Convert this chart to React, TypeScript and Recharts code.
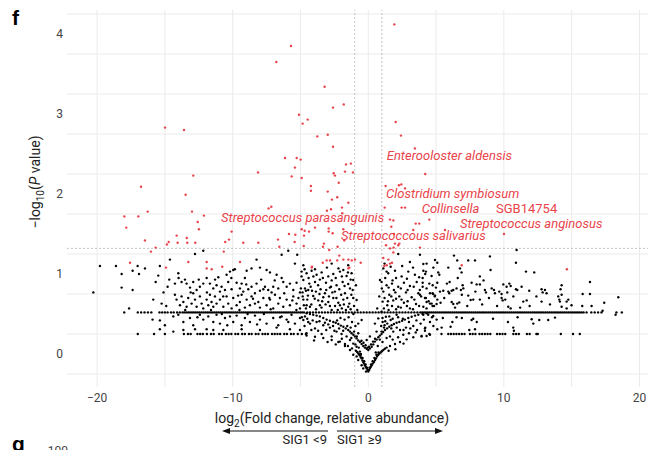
import React from "react";
import {
  ScatterChart,
  Scatter,
  XAxis,
  YAxis,
  CartesianGrid,
  ReferenceLine,
} from "recharts";

type Pt = [number, number];

// axis setup
const xTicks = [-20, -10, 0, 10, 20];
const yTicks = [0, 1, 2, 3, 4];
const xGrid = [-20, -15, -10, -5, 0, 5, 10, 15, 20];
const yGrid = [-0.25, 0.25, 0.75, 1.25, 1.75, 2.25, 2.75, 3.25, 3.75, 4.25];
const fcCut = 1;
const pCut = 1.32;

// significant taxa (red)
const sigPoints: Pt[] = [
  [1.92, 4.12], [-5.7, 3.85], [-6.78, 3.65], [-3.22, 3.34], [-1.81, 3.12], [-2.6, 3.08], [-5.11, 2.99],
  [-4.47, 2.93], [-4.84, 2.88], [2.02, 2.9], [-3.76, 2.72], [-2.99, 2.74], [2.41, 2.73], [-2.6, 2.59],
  [3.44, 2.57], [-6.14, 2.45], [-5.28, 2.45], [-4.99, 2.43], [-1.64, 2.37], [-1.28, 2.38], [-5.41, 2.33],
  [-8.13, 2.27], [-2.55, 2.26], [-2.46, 2.23], [-1.72, 2.28], [-1.13, 2.27], [4.2, 2.25], [-5.65, 2.22],
  [-4.91, 2.2], [-2.18, 2.14], [-4.23, 2.1], [-4.23, 2.04], [-2.99, 2.03], [-2.29, 1.96], [-2.68, 1.93],
  [1.28, 2.1], [2.26, 2.11], [2.44, 2.12], [2.71, 2.07], [-14.99, 2.83], [-13.59, 2.8], [-12.91, 2.23],
  [-16.76, 2.09], [-13.47, 1.99], [-16.27, 1.78], [-17.99, 1.72], [-16.96, 1.72], [-13.0, 1.78],
  [-12.12, 1.73], [-12.58, 1.65], [-17.85, 1.58], [-12.49, 1.56], [-10.08, 1.53], [-14.13, 1.48],
  [-13.39, 1.45], [-16.47, 1.42], [-14.72, 1.4], [-14.06, 1.39], [-13.35, 1.39], [-12.76, 1.39],
  [-10.27, 1.43], [-10.55, 1.4], [-9.22, 1.39], [-8.11, 1.39], [-14.85, 1.37], [-15.68, 1.33],
  [-16.03, 1.28], [-10.66, 1.28], [-1.47, 1.89], [-7.15, 1.84], [-7.35, 1.82], [-1.94, 1.83],
  [-2.75, 1.81], [-3.05, 1.79], [-1.92, 1.76], [1.21, 1.83], [-3.93, 1.58], [-4.91, 1.56], [-4.37, 1.53],
  [-2.92, 1.57], [-2.92, 1.53], [-1.84, 1.56], [-5.85, 1.5], [-5.38, 1.49], [-4.69, 1.54], [-4.74, 1.48],
  [-2.63, 1.51], [-6.66, 1.43], [-5.43, 1.4], [-1.77, 1.42], [-3.27, 1.38], [-3.34, 1.34], [-2.88, 1.3],
  [-2.26, 1.34], [-6.56, 1.34], [-4.76, 1.35], [1.7, 1.59], [1.9, 1.5], [1.31, 1.36], [1.87, 1.33],
  [2.46, 1.83], [2.71, 1.83], [1.6, 1.68], [1.85, 1.67], [3.5, 1.63], [3.76, 1.63], [4.5, 1.68],
  [3.32, 1.55], [5.66, 1.55], [10.01, 1.5], [2.21, 1.36], [3.81, 1.33], [1.97, 1.38], [2.29, 1.38],
  [1.6, 1.32], [1.85, 1.27], [1.6, 1.13], [1.36, 1.11], [1.11, 1.2], [6.89, 1.11], [14.65, 1.06],
  [-1.84, 1.18], [-1.47, 1.18], [-1.22, 1.17], [-0.56, 1.14], [-1.47, 1.07], [-4.15, 1.09], [-3.36, 1.14],
  [-3.07, 1.17], [-2.82, 1.17], [-2.14, 1.23], [-2.29, 1.17], [-0.98, 1.18], [-1.4, 1.08], [1.48, 1.18],
  [1.75, 1.14], [1.18, 1.1], [-17.57, 1.14], [-13.27, 1.15], [-11.92, 1.15], [-11.92, 1.07],
  [-11.55, 1.06], [-10.77, 1.09], [-9.46, 1.15], [-14.92, 1.08], [-4.17, 1.08],
];

// non-significant taxa, left side
const nsLeft: Pt[] = [
  [-20.28, 0.77], [-19.79, 1.1], [-18.61, 1.1], [-17.01, 1.1], [-16.47, 1.07], [-15.37, 1.1], [-14.63, 1.18],
  [-12.78, 1.25], [-12.17, 1.29], [-9.96, 1.05], [-9.84, 1.06], [-8.97, 1.04], [-8.61, 1.07], [-8.24, 1.18],
  [-7.99, 1.08], [-7.5, 1.05], [-7.25, 1.02], [-6.39, 1.24], [-5.9, 1.29], [-5.24, 1.24], [-5.41, 1.13],
  [-18.19, 1.0], [-17.38, 1.04], [-16.91, 1.0], [-18.19, 0.83], [-17.38, 0.8], [-15.68, 0.9], [-15.49, 0.98],
  [-14.68, 0.93], [-14.8, 0.84], [-14.26, 0.88], [-14.01, 1.01], [-13.99, 0.95], [-13.77, 0.9], [-13.52, 0.93],
  [-13.4, 0.88], [-13.15, 0.83], [-12.91, 0.9], [-12.66, 0.8], [-12.42, 0.84], [-12.17, 0.88], [-11.92, 0.95],
  [-11.68, 0.88], [-11.43, 0.82], [-11.19, 0.86], [-11.06, 0.96], [-10.94, 0.78], [-10.82, 0.84],
  [-10.57, 0.8], [-10.45, 0.99], [-10.33, 0.9], [-10.2, 1.03], [-10.08, 0.81], [-9.71, 0.89], [-9.47, 0.82],
  [-9.34, 0.88], [-9.22, 0.78], [-9.1, 0.95], [-8.85, 0.81], [-8.61, 0.84], [-8.36, 0.76], [-8.24, 0.88],
  [-7.99, 0.79], [-7.74, 0.81], [-7.62, 0.84], [-7.38, 0.8], [-7.13, 0.77], [-7.01, 0.84], [-6.76, 0.99],
  [-6.64, 0.82], [-6.39, 0.95], [-6.27, 0.9], [-6.02, 0.84], [-5.78, 0.88], [-5.53, 0.8], [-5.29, 0.89],
  [-5.04, 0.77], [-4.92, 0.97], [-4.67, 0.82], [-4.43, 0.8],
  [-17.64, 0.57], [-15.86, 0.68], [-15.24, 0.63], [-14.26, 0.74], [-14.14, 0.68], [-13.89, 0.61], [-13.77, 0.72],
  [-13.64, 0.65], [-13.4, 0.59], [-13.28, 0.7], [-13.03, 0.63], [-12.91, 0.76], [-12.78, 0.68], [-12.66, 0.59],
  [-12.42, 0.72], [-12.29, 0.63], [-12.17, 0.57], [-11.92, 0.68], [-11.8, 0.61], [-11.68, 0.74], [-11.56, 0.65],
  [-11.43, 0.59], [-11.31, 0.72], [-11.19, 0.63], [-10.94, 0.68], [-10.69, 0.59], [-10.45, 0.72], [-10.33, 0.63],
  [-10.08, 0.57], [-9.96, 0.7], [-9.71, 0.61], [-9.47, 0.65], [-9.34, 0.74], [-9.1, 0.58], [-8.97, 0.68],
  [-8.73, 0.61], [-8.61, 0.72], [-8.36, 0.63], [-8.11, 0.65], [-7.99, 0.58], [-7.74, 0.7], [-7.5, 0.61],
  [-7.25, 0.68], [-7.01, 0.57], [-6.88, 0.74], [-6.64, 0.63], [-6.52, 0.7], [-6.27, 0.59], [-6.02, 0.68],
  [-5.78, 0.61], [-5.53, 0.72], [-5.29, 0.63], [-5.04, 0.57], [-4.79, 0.68], [-4.55, 0.61],
  [-15.91, 0.43], [-15.37, 0.42], [-15.0, 0.36], [-14.38, 0.47], [-14.01, 0.49], [-13.64, 0.4], [-13.15, 0.45],
  [-12.91, 0.36], [-12.42, 0.49], [-12.17, 0.43], [-11.8, 0.47], [-11.43, 0.4], [-11.19, 0.49], [-10.94, 0.38],
  [-10.57, 0.45], [-10.2, 0.47], [-9.96, 0.4], [-9.71, 0.48], [-9.34, 0.36], [-9.1, 0.45], [-8.73, 0.4],
  [-8.36, 0.48], [-7.99, 0.43], [-7.5, 0.38], [-7.01, 0.45], [-6.64, 0.36], [-6.39, 0.47], [-6.02, 0.43],
  [-5.66, 0.49], [-5.41, 0.38], [-5.04, 0.45], [-4.67, 0.47], [-4.43, 0.4],
  [-15.37, 0.31], [-14.38, 0.28], [-13.64, 0.3], [-12.78, 0.31], [-11.92, 0.31], [-11.43, 0.3], [-10.69, 0.3],
  [-9.34, 0.31], [-7.99, 0.3], [-6.76, 0.33], [-5.78, 0.31], [-5.04, 0.3],
  [-13.1, 0.77], [-12.5, 0.93], [-11.9, 0.77], [-11.3, 0.93], [-10.7, 0.72], [-10.1, 0.95], [-9.6, 0.73],
  [-9.0, 0.87], [-8.5, 0.69], [-7.9, 0.93], [-7.3, 0.7], [-6.9, 0.92], [-6.2, 0.76], [-5.6, 0.67],
  [-5.15, 0.7], [-13.5, 0.55], [-12.6, 0.46], [-11.6, 0.55], [-10.8, 0.5], [-10.4, 0.36], [-9.5, 0.55],
  [-8.9, 0.5], [-8.2, 0.37], [-7.7, 0.5], [-7.2, 0.56], [-6.5, 0.46], [-5.9, 0.4], [-5.3, 0.55],
  [-14.9, 0.6], [-15.1, 0.77],
];

// non-significant taxa, centre (|log2FC| < 5)
const nsCentre: Pt[] = [
  [-4.92, 1.03], [-4.55, 1.01], [-4.18, 1.04], [-3.81, 0.99], [-3.44, 1.02], [-2.95, 0.97], [-2.58, 1.0],
  [-2.09, 1.03], [-1.6, 0.975], [-1.23, 1.01], [-4.79, 0.925], [-4.35, 0.88], [-3.93, 0.9], [-3.57, 0.93],
  [-3.12, 0.89], [-2.7, 0.92], [-2.34, 0.86], [-1.89, 0.9], [-1.48, 0.875], [-1.11, 0.925], [-4.97, 0.82],
  [-4.6, 0.79], [-4.25, 0.84], [-3.86, 0.78], [-3.52, 0.81], [-3.2, 0.76], [-2.83, 0.83], [-2.46, 0.78],
  [-2.14, 0.81], [-1.72, 0.76], [-1.35, 0.82], [-4.84, 0.72], [-4.5, 0.68], [-4.06, 0.725], [-3.69, 0.67],
  [-3.32, 0.71], [-2.95, 0.65], [-2.58, 0.7], [-2.21, 0.64], [-1.84, 0.68], [-1.4, 0.63], [-1.11, 0.7],
  [-4.75, 0.61], [-4.3, 0.59], [-3.57, 0.61], [-2.83, 0.6], [-2.09, 0.61], [-1.48, 0.59],
  [-4.79, 1.11], [-3.93, 1.06], [-2.7, 1.13], [-1.84, 1.05], [-1.48, 1.11],
  [-4.79, 0.425], [-4.3, 0.38], [-3.81, 0.4], [-3.32, 0.36], [-3.93, 0.32], [-2.83, 0.33], [-2.34, 0.28],
  [-1.97, 0.25], [-1.6, 0.22], [-4.55, 0.26], [-3.44, 0.25], [-2.7, 0.22], [-1.35, 0.175], [-1.11, 0.13],
  [-2.09, 0.155], [-1.72, 0.1], [-0.86, 0.09], [-0.62, 0.03], [-0.49, -0.14], [-0.74, -0.075],
  [-0.37, -0.18], [-0.17, -0.22], [-0.86, -0.03], [-1.11, -0.01], [-1.35, 0.05],
  [-4.7, 1.06], [-4.4, 0.95], [-4.05, 0.97], [-3.7, 0.86], [-3.35, 0.95], [-3.05, 1.08], [-2.75, 0.84],
  [-2.4, 0.95], [-2.2, 1.07], [-1.95, 0.97], [-1.75, 0.85], [-1.5, 1.02], [-1.3, 0.93], [-1.15, 0.8],
  [-4.85, 0.77], [-4.45, 0.73], [-4.15, 0.79], [-3.95, 0.69], [-3.6, 0.75], [-3.4, 0.66], [-3.1, 0.8],
  [-2.9, 0.72], [-2.65, 0.77], [-2.35, 0.7], [-2.0, 0.74], [-1.8, 0.62], [-1.55, 0.7], [-1.25, 0.74],
  [-1.05, 0.6], [-4.6, 0.57], [-4.2, 0.62], [-3.85, 0.56], [-3.45, 0.58], [-3.15, 0.62], [-2.7, 0.55],
  [-2.45, 0.6], [-2.25, 0.55], [-1.95, 0.57], [-1.65, 0.55], [-1.3, 0.56], [-1.1, 0.5], [-4.9, 0.46],
  [-4.5, 0.44], [-4.1, 0.42], [-3.6, 0.41], [-3.2, 0.39], [-2.95, 0.37], [-2.6, 0.35], [-2.3, 0.42],
  [-2.05, 0.45], [-1.75, 0.43], [-1.45, 0.46], [-1.2, 0.4], [-0.95, 0.35], [-4.7, 0.35], [-4.2, 0.3],
  [-3.7, 0.29], [-3.1, 0.3], [-2.5, 0.29], [-2.15, 0.32], [-1.85, 0.29], [-1.55, 0.35], [-1.3, 0.33],
  [-1.05, 0.28], [-0.85, 0.22], [-4.0, 0.17], [-3.0, 0.15], [-2.4, 0.12], [-1.95, 0.19], [-1.5, 0.1],
  [-1.25, 0.2], [-0.95, 0.12], [-0.7, 0.08], [-0.55, 0.0], [-1.2, 0.07],
  [1.11, 1.07], [1.47, 1.01], [1.97, 1.04], [2.46, 0.97], [2.95, 1.03], [3.44, 0.99], [4.06, 1.04],
  [4.67, 0.975], [5.16, 1.02], [0.98, 0.9], [1.35, 0.86], [1.79, 0.92], [2.21, 0.84], [2.63, 0.89],
  [3.07, 0.85], [3.57, 0.9], [4.01, 0.84], [4.5, 0.88], [4.99, 0.83], [1.11, 0.78], [1.55, 0.74],
  [1.89, 0.8], [2.29, 0.72], [2.78, 0.77], [3.2, 0.71], [3.69, 0.76], [4.25, 0.7], [4.74, 0.76],
  [5.09, 0.68], [1.06, 0.655], [1.4, 0.61], [1.84, 0.67], [2.21, 0.59], [2.63, 0.64], [3.07, 0.57],
  [3.52, 0.625], [4.06, 0.59], [4.67, 0.63], [0.98, 0.53], [1.3, 0.465], [1.65, 0.425], [2.09, 0.49],
  [1.4, 0.38], [1.16, 0.33], [1.06, 0.4], [0.98, 0.28], [1.84, 0.28], [2.34, 0.3], [2.78, 0.33],
  [3.32, 0.35], [3.86, 0.38], [4.55, 0.4], [5.04, 0.43], [1.6, 0.22], [2.58, 0.24],
  [2.21, 1.25], [3.07, 1.15], [3.81, 1.24], [4.3, 1.13], [4.92, 1.175], [1.35, 1.03],
  [1.2, 1.13], [1.65, 1.09], [2.05, 0.95], [2.5, 1.1], [2.85, 0.94], [3.3, 1.08], [3.75, 0.96],
  [4.2, 1.0], [4.8, 1.08], [1.0, 0.82], [1.25, 0.95], [1.5, 0.83], [1.75, 0.88], [2.0, 0.77], [2.4, 0.82],
  [2.9, 0.8], [3.35, 0.84], [3.8, 0.8], [4.3, 0.82], [4.75, 0.86], [1.2, 0.7], [1.45, 0.66], [1.7, 0.72],
  [2.05, 0.69], [2.45, 0.68], [2.9, 0.66], [3.4, 0.68], [3.9, 0.72], [4.45, 0.66], [4.9, 0.72],
  [1.15, 0.57], [1.5, 0.55], [1.75, 0.6], [2.05, 0.56], [2.4, 0.58], [2.85, 0.6], [3.3, 0.56], [3.75, 0.6],
  [4.3, 0.57], [4.85, 0.6], [1.05, 0.45], [1.25, 0.41], [1.55, 0.47], [1.8, 0.44], [2.2, 0.46],
  [2.55, 0.44], [3.0, 0.4], [3.55, 0.42], [4.1, 0.43], [4.7, 0.46], [0.95, 0.35], [1.2, 0.36], [1.7, 0.32],
  [2.1, 0.33], [2.6, 0.3], [3.1, 0.32], [3.6, 0.3], [4.2, 0.33], [4.8, 0.35], [0.85, 0.18], [1.05, 0.15],
  [1.35, 0.2], [1.8, 0.18], [2.2, 0.21], [2.6, 0.13], [3.0, 0.26], [3.5, 0.27], [1.5, 0.04], [0.7, 0.1],
  [0.55, 0.02], [2.0, 0.06],
  [-0.74, 0.38], [-0.49, 0.425], [0.49, 0.38], [0.74, 0.445], [-0.81, 0.55], [0.66, 0.57],
  [-0.86, 0.675], [0.81, 0.72], [0.86, 0.925], [-0.91, 0.86], [-0.74, 0.26], [0.61, 0.28],
  [-0.12, 0.175], [0.12, 0.22],
];

// tied p-values near log2FC = 0 form two V-shaped ridges and their branches
const ridgePoints: Pt[] = [
  [0, -0.22], [-0.06, -0.2], [-0.12, -0.18], [-0.19, -0.16], [-0.25, -0.14], [-0.31, -0.12], [-0.37, -0.1],
  [-0.43, -0.08], [-0.49, -0.055], [-0.55, -0.04], [-0.62, -0.02], [-0.68, -0.005], [-0.74, 0.008],
  [-0.82, 0.025], [-0.91, 0.04], [0.06, -0.2], [0.12, -0.18], [0.19, -0.16], [0.25, -0.14], [0.33, -0.12],
  [0.42, -0.1], [0.5, -0.075], [0.57, -0.055], [0.65, -0.03], [0.74, -0.01], [0.82, 0.005], [0.91, 0.02],
  [1.0, 0.035], [1.11, 0.05], [1.22, 0.065], [1.35, 0.08],
  [-0.1, -0.17], [-0.2, -0.13], [-0.3, -0.09], [-0.42, -0.05], [-0.55, -0.01], [0.1, -0.17], [0.2, -0.13],
  [0.32, -0.09], [0.45, -0.05], [0.6, -0.01], [0.75, 0.02],
  [0, 0.05], [-0.12, 0.065], [-0.25, 0.08], [-0.37, 0.1], [-0.49, 0.125], [-0.62, 0.15], [-0.74, 0.17],
  [-0.86, 0.195], [-0.98, 0.22], [-1.1, 0.24], [-1.23, 0.26], [-1.35, 0.28], [-1.48, 0.3], [-1.66, 0.32],
  [-1.84, 0.34], [-2.02, 0.355], [-2.21, 0.375], [-2.4, 0.39], [-2.58, 0.4], [-2.83, 0.415], [-3.07, 0.43],
  [-3.32, 0.45], [-3.57, 0.47], [-3.81, 0.48], [-4.06, 0.49], [-4.3, 0.5], [-4.55, 0.51],
  [0.12, 0.07], [0.25, 0.09], [0.37, 0.12], [0.49, 0.155], [0.62, 0.18], [0.74, 0.21], [0.86, 0.23],
  [0.98, 0.25], [1.1, 0.275], [1.23, 0.3], [1.39, 0.32], [1.55, 0.34], [1.72, 0.36], [1.89, 0.375],
  [2.09, 0.39], [2.29, 0.4], [2.5, 0.415], [2.7, 0.43], [2.95, 0.45], [3.2, 0.465], [3.45, 0.48],
  [3.69, 0.49], [4.0, 0.5], [4.3, 0.51],
  [-0.05, 0.08], [-0.2, 0.11], [-0.35, 0.14], [-0.5, 0.165], [0.05, 0.09], [0.2, 0.12], [0.35, 0.155],
  [0.5, 0.19],
  [1.6, 0.1], [1.97, 0.125], [2.34, 0.15], [2.83, 0.183], [3.32, 0.21], [3.93, 0.225], [4.55, 0.24],
  [-1.72, 0.125], [-2.21, 0.15], [-2.7, 0.175], [-3.32, 0.2], [-3.93, 0.216], [-4.55, 0.23],
];

// non-significant taxa, right side
const nsRight: Pt[] = [
  [10.94, 1.3], [6.32, 1.23], [8.97, 1.22], [6.56, 1.17], [7.37, 1.17], [7.87, 1.17], [10.89, 1.14],
  [4.06, 1.125], [5.09, 1.14], [5.9, 1.08], [6.76, 1.07], [6.88, 1.02], [9.02, 1.05], [11.63, 1.03],
  [12.24, 1.02], [4.25, 1.03], [5.24, 0.99], [8.23, 0.97], [4.01, 0.95],
  [5.09, 0.89], [4.01, 0.89], [7.62, 0.89], [7.99, 0.87], [8.23, 0.87], [6.96, 0.86], [6.51, 0.82],
  [6.27, 0.8], [6.15, 0.79], [9.96, 0.87], [10.4, 0.88], [10.5, 0.85], [10.2, 0.84], [11.31, 0.84],
  [10.89, 0.81], [10.99, 0.8], [8.6, 0.8], [8.68, 0.77], [9.1, 0.82], [9.27, 0.8], [9.34, 0.76],
  [9.66, 0.78], [9.83, 0.75], [10.25, 0.77], [11.87, 0.79], [12.78, 0.81], [13.03, 0.8], [12.86, 0.77],
  [13.15, 0.76], [14.26, 0.86], [14.18, 0.81], [16.35, 0.9], [4.55, 0.76], [4.79, 0.75], [4.92, 0.73],
  [5.29, 0.78], [5.53, 0.79], [3.81, 0.74], [4.18, 0.7], [5.9, 0.78], [5.97, 0.76], [7.37, 0.73],
  [7.74, 0.68], [6.83, 0.8], [7.01, 0.82], [9.83, 0.7], [14.26, 0.74], [15.81, 0.75], [16.35, 0.75],
  [18.44, 0.71],
  [4.3, 0.65], [4.55, 0.63], [4.74, 0.6], [5.04, 0.625], [5.33, 0.64], [6.15, 0.65], [6.27, 0.625],
  [6.56, 0.63], [6.71, 0.645], [7.55, 0.675], [8.23, 0.68], [9.91, 0.67], [10.32, 0.59], [10.5, 0.57],
  [11.43, 0.655], [11.68, 0.67], [12.78, 0.655], [14.01, 0.72], [14.09, 0.68], [14.13, 0.655],
  [14.63, 0.655], [14.75, 0.68], [14.99, 0.61], [15.78, 0.6], [16.47, 0.6], [17.4, 0.64], [14.26, 0.59],
  [14.63, 0.57],
  [4.06, 0.49], [4.42, 0.49], [4.79, 0.475], [6.51, 0.46], [7.62, 0.425], [7.74, 0.44], [11.01, 0.46],
  [12.05, 0.435], [12.61, 0.425], [13.27, 0.425], [12.17, 0.38], [13.77, 0.455], [18.24, 0.49],
  [17.28, 0.54], [5.09, 0.31], [5.41, 0.33], [6.07, 0.34], [7.45, 0.3], [7.87, 0.31], [10.69, 0.33],
  [10.74, 0.29], [4.18, 0.32], [4.18, 0.29], [3.93, 0.22], [4.3, 0.225], [4.5, 0.25],
  [5.6, 0.7], [6.0, 0.9], [6.4, 0.58], [6.9, 0.74], [7.3, 0.6], [7.9, 0.78], [8.4, 0.62], [8.9, 0.7],
  [9.5, 0.6], [10.1, 0.68], [10.7, 0.72], [11.2, 0.58], [11.9, 0.6], [12.4, 0.72], [13.4, 0.62],
  [5.5, 0.45], [6.2, 0.4], [6.9, 0.45], [8.0, 0.4], [9.2, 0.44], [10.3, 0.4], [5.8, 0.88], [6.6, 0.95],
  [8.5, 0.92],
];

// taxa sharing the same p-value: two horizontal bands
const bandUpperY = 0.52;
const bandUpperX = [
  -18.0, -17.0, -16.75, -16.5, -16.25, -16.0, -15.4, -15.2, -15.0, -14.8, -14.55, -14.35, -14.1, -13.9,
  -13.7, -13.56, -13.42, -13.28, -13.14, -13.0, -12.86, -12.72, -12.58, -12.44, -12.3, -12.16, -12.02,
  -11.88, -11.74, -11.6, -11.46, -11.32, -11.18, -11.04, -10.9, -10.76, -10.62, -10.48, -10.34, -10.2,
  -10.06, -9.92, -9.78, -9.64, -9.5, -9.36, -9.22, -9.08, -8.94, -8.8, -8.66, -8.52, -8.38, -8.24, -8.1,
  -7.96, -7.82, -7.68, -7.54, -7.4, -7.26, -7.12, -6.98, -6.84, -6.7, -6.56, -6.42, -6.28, -6.14, -6.0,
  -5.86, -5.72, -5.58, -5.44, -5.3, -5.16, -5.02, -4.88, -4.74,
  -4.5, -4.3, -4.08, -3.86, -3.64, -3.42, -3.2, -2.98, -2.76, -2.54, -2.32, -2.1, -1.88, -1.66, -1.44,
  -1.22, -1.0, -0.78, -0.56, -0.34, -0.12, 0.1, 0.32, 0.54, 0.76, 0.98, 1.2, 1.42, 1.64, 1.86, 2.08,
  2.3, 2.52, 2.74, 2.96, 3.18, 3.4, 3.62,
  3.84, 3.98, 4.12, 4.26, 4.4, 4.54, 4.68, 4.82, 4.96, 5.1, 5.24, 5.38, 5.52, 5.66, 5.8, 5.94, 6.08,
  6.22, 6.36, 6.5, 6.64, 6.78, 6.92, 7.06, 7.2, 7.34, 7.48, 7.62, 7.76, 7.9, 8.04, 8.18, 8.32, 8.46,
  8.6, 8.74, 8.88, 9.02, 9.16, 9.3, 9.44, 9.58, 9.72, 9.86, 10.0, 10.14, 10.28, 10.42, 10.56, 10.7,
  10.84, 10.98, 11.12, 11.26, 11.4, 11.54, 11.68, 11.82, 11.96, 12.1, 12.24, 12.38, 12.52, 12.66, 12.8,
  12.94, 13.08, 13.22, 13.36, 13.5, 13.64, 13.78, 13.92, 14.06, 14.2, 14.34, 14.48, 14.62, 14.76, 14.9,
  15.04, 15.18, 15.32, 15.46, 15.6, 15.74, 15.88, 16.1, 16.45, 16.7, 16.95, 17.2, 18.3, 18.7,
];
const bandLowerY = 0.25;
const bandLowerX = [
  -17.0, -15.8, -15.0, -13.6, -13.3, -13.1, -12.6, -12.4, -12.2, -11.9, -11.6, -11.4, -11.0, -10.8, -10.5,
  -10.3, -10.1, -9.8, -9.6, -9.3, -9.1, -8.8, -8.6, -8.3, -8.1, -7.8, -7.6, -7.4, -7.1, -6.9, -6.7, -6.5,
  -6.2, -6.0, -5.7, -5.5, -5.2, -4.9, -4.6,
  5.4, 5.9, 6.1, 6.3, 6.5, 6.7, 6.9, 7.1, 7.5, 7.7, 7.9, 8.2, 8.4, 8.6, 8.8, 9.0, 9.5, 9.7, 9.9, 10.1,
  10.7, 10.9, 11.1, 11.7, 11.9, 12.4, 12.5, 14.2, 15.1, 15.6,
];

// labelled taxa: text start position in data units
const taxonLabels = [
  { text: "Enterooloster aldensis", x: 1.36, y: 2.42, italic: true },
  { text: "Clostridium symbiosum", x: 1.31, y: 1.95, italic: true },
  { text: "Collinsella", x: 3.94, y: 1.76, italic: true },
  { text: "SGB14754", x: 9.42, y: 1.76, italic: false },
  { text: "Streptococcus anginosus", x: 6.76, y: 1.58, italic: true },
  { text: "Streptococcus parasanguinis", x: -10.86, y: 1.65, italic: true },
  { text: "Streptococcous salivarius", x: -2.01, y: 1.43, italic: true },
];

const RED = "#e8434b";
const FONT = "Roboto, 'Liberation Sans', Arial, sans-serif";

const toRows = (pts: Pt[]) => pts.map(([x, y]) => ({ x, y }));
const nsRows = [
  ...toRows(nsLeft),
  ...toRows(nsCentre),
  ...toRows(ridgePoints),
  ...toRows(nsRight),
  ...bandUpperX.map((x) => ({ x, y: bandUpperY })),
  ...bandLowerX.map((x) => ({ x, y: bandLowerY })),
];
const sigRows = toRows(sigPoints);

const dot = (fill: string) => (p: any) =>
  p.cx == null ? <g /> : <circle cx={p.cx} cy={p.cy} r={1.2} fill={fill} />;

const labelShape = (p: any) => (
  <text
    x={p.cx}
    y={p.cy}
    fill={RED}
    fontSize={13}
    fontFamily={FONT}
    fontStyle={p.payload.italic ? "italic" : "normal"}
  >
    {p.payload.text}
  </text>
);

const minus = (v: number) => String(v).replace("-", "\u2212");

export default function App() {
  return (
    <div style={{ position: "absolute", left: 0, top: 0, width: 653, height: 450, background: "#fff" }}>
      <ScatterChart width={653} height={450} margin={{ top: 10, right: 5, bottom: 0, left: 0 }}>
        <CartesianGrid stroke="#ebebeb" strokeWidth={1} verticalValues={xGrid} horizontalValues={yGrid} />
        <XAxis
          type="number"
          dataKey="x"
          domain={[-22.22, 20.63]}
          ticks={xTicks}
          allowDataOverflow
          height={63}
          axisLine={false}
          tickLine={false}
          tickSize={0}
          tickMargin={6}
          tickFormatter={minus}
          tick={{ fontSize: 12, fill: "#444", fontFamily: FONT }}
        />
        <YAxis
          type="number"
          dataKey="y"
          domain={[-0.4125, 4.3]}
          ticks={yTicks}
          allowDataOverflow
          width={67}
          axisLine={false}
          tickLine={false}
          tickSize={0}
          tickMargin={4}
          tick={{ fontSize: 12, fill: "#444", fontFamily: FONT }}
        />
        <ReferenceLine x={-fcCut} stroke="#b5b5b5" strokeDasharray="2 2" strokeWidth={0.8} />
        <ReferenceLine x={fcCut} stroke="#b5b5b5" strokeDasharray="2 2" strokeWidth={0.8} />
        <ReferenceLine y={pCut} stroke="#b5b5b5" strokeDasharray="2 2" strokeWidth={0.8} />
        <Scatter data={nsRows} shape={dot("#000")} isAnimationActive={false} />
        <Scatter data={sigRows} shape={dot(RED)} isAnimationActive={false} />
        <Scatter data={taxonLabels} shape={labelShape} isAnimationActive={false} />
      </ScatterChart>
      <svg
        width={653}
        height={450}
        style={{ position: "absolute", left: 0, top: 0, pointerEvents: "none" }}
        fontFamily={FONT}
      >
        <text x={12} y={25} fontSize={21} fontWeight="bold" fontFamily="'Liberation Sans', Arial, sans-serif">f</text>
        <text x={12} y={451} fontSize={21} fontWeight="bold" fontFamily="'Liberation Sans', Arial, sans-serif">g</text>
        <text x={68} y={455} fontSize={12} fill="#444" textAnchor="end">100</text>
        <text transform="translate(40,182) rotate(-90)" textAnchor="middle" fontSize={14} fill="#222">
          {"\u2212log"}
          <tspan fontSize={10} dy={4}>10</tspan>
          <tspan dy={-4}>(</tspan>
          <tspan fontStyle="italic">P</tspan>
          <tspan> value)</tspan>
        </text>
        <text x={332} y={423} textAnchor="middle" fontSize={14} fill="#222">
          log
          <tspan fontSize={10} dy={4}>2</tspan>
          <tspan dy={-4}>(Fold change, relative abundance)</tspan>
        </text>
        <line x1={228} y1={431} x2={328} y2={431} stroke="#111" strokeWidth={1.2} />
        <polygon points="222,431 230,428 230,434" fill="#111" />
        <line x1={337} y1={431} x2={437} y2={431} stroke="#111" strokeWidth={1.2} />
        <polygon points="443,431 435,428 435,434" fill="#111" />
        <text x={327} y={444} textAnchor="end" fontSize={13} fill="#222">SIG1 {"<"}9</text>
        <text x={337} y={444} textAnchor="start" fontSize={13} fill="#222">SIG1 {"\u2265"}9</text>
      </svg>
    </div>
  );
}
